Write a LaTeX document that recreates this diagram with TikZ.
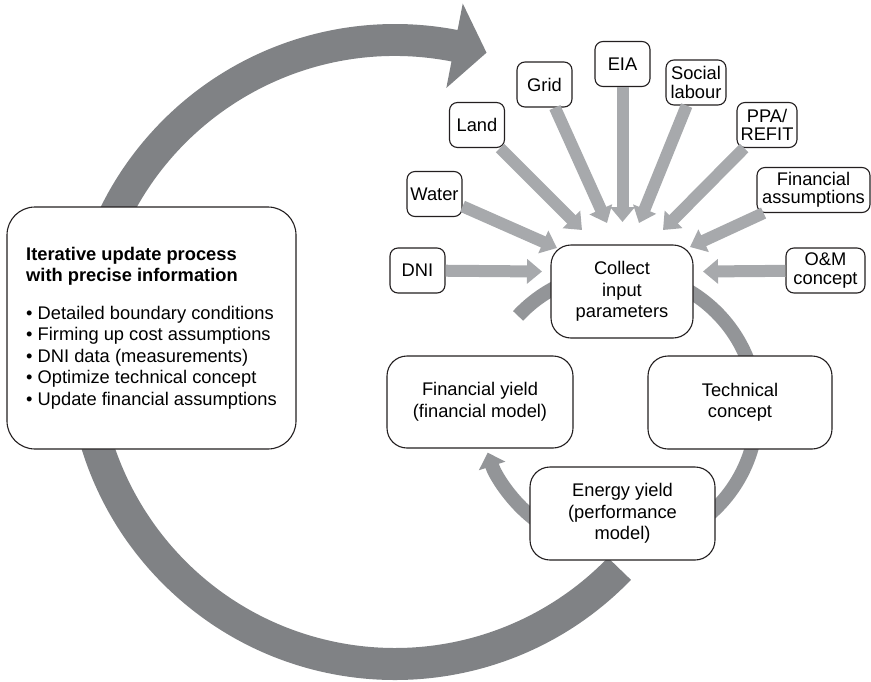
\documentclass[tikz,border=0pt]{standalone}
\usepackage{fontspec}
\setmainfont{Liberation Sans}
\usetikzlibrary{arrows.meta,calc}
\definecolor{loopgray}{RGB}{128,130,133}
\definecolor{cyclegray}{RGB}{147,149,152}
\definecolor{inputgray}{RGB}{167,169,172}
\definecolor{edgeblack}{RGB}{35,31,32}
\tikzset{
  smallbox/.style={draw=edgeblack, line width=1.1pt, fill=white, rounded corners=8pt,
    align=center, inner sep=2pt, minimum width=55pt, minimum height=45pt,
    font=\fontsize{18.3}{18.5}\selectfont},
  stagebox/.style={draw=edgeblack, line width=1.1pt, fill=white, rounded corners=20pt,
    align=center, minimum width=185pt, minimum height=93pt,
    font=\fontsize{18.3}{21.5}\selectfont},
  inputarrow/.style={draw=inputgray, line width=12pt, -{Triangle[width=24pt,length=15pt]}},
}
\begin{document}
\begin{tikzpicture}[x=1pt, y=-1pt]
    \useasboundingbox (0,0) rectangle (871,681);
    \coordinate (hub) at (395,352);
    \coordinate (ringhub) at (619,410);
    \fill[loopgray] ($(hub)+(44:328)$) arc[start angle=44, end angle=281, radius=328]
        -- ($(hub)+(281:355)$) -- ($(hub)+(287:313)$) -- ($(hub)+(281:269)$)
        -- ($(hub)+(281:296)$) arc[start angle=281, end angle=44, radius=296] -- cycle;
    \draw[cyclegray, line width=14pt, -{Triangle[width=27pt,length=14pt]}]
        ($(ringhub)+(223:138)$) arc[start angle=223, end angle=522, radius=138];
    \node[draw=edgeblack, line width=1.1pt, fill=white, rounded corners=28pt, align=left,
        minimum width=289pt, minimum height=242pt, font=\fontsize{18.3}{21.5}\selectfont]
        (iterbox) at (151.5,328) {\textbf{Iterative update process}\\
        \textbf{with precise information}\\[16pt]
        • Detailed boundary conditions\\
        • Firming up cost assumptions\\
        • DNI data (measurements)\\
        • Optimize technical concept\\
        • Update financial assumptions};
    \node[stagebox, minimum width=142pt] (collect) at (622,291.5) {Collect\\input\\parameters};
    \node[stagebox, minimum width=186pt, minimum height=92pt] (finyield) at (480,402) {Financial yield\\(financial model)};
    \node[stagebox, minimum width=184pt] (techconcept) at (740,402.5) {Technical\\concept};
    \node[stagebox] (energyyield) at (622.5,513.5) {Energy yield\\(performance\\model)};
    \node[smallbox] (dni) at (417.5,270.5) {DNI};
    \node[smallbox] (water) at (434.5,194) {Water};
    \node[smallbox] (land) at (477,125) {Land};
    \node[smallbox] (grid) at (544.5,84.5) {Grid};
    \node[smallbox] (eia) at (622.5,64) {EIA};
    \node[smallbox, minimum width=60pt] (social) at (696,82.5) {Social\\labour};
    \node[smallbox, minimum width=60pt] (ppa) at (767,125) {PPA/\\REFIT};
    \node[smallbox, minimum width=113pt] (finassump) at (813.5,190) {Financial\\assumptions};
    \node[smallbox, minimum width=79pt] (om) at (825.5,270.5) {O\&M\\concept};
    \coordinate (to-dni) at (542,271.5);
    \coordinate (to-water) at (557,248);
    \coordinate (to-land) at (582,230);
    \coordinate (to-grid) at (607,223);
    \coordinate (to-eia) at (622.5,222);
    \coordinate (to-social) at (639,223);
    \coordinate (to-ppa) at (663,230);
    \coordinate (to-finassump) at (690,247);
    \coordinate (to-om) at (703,271.5);
    \foreach \src in {dni,water,land,grid,eia,social,ppa,finassump,om}
        \draw[inputarrow] (\src) -- (to-\src);
\end{tikzpicture}
\end{document}
